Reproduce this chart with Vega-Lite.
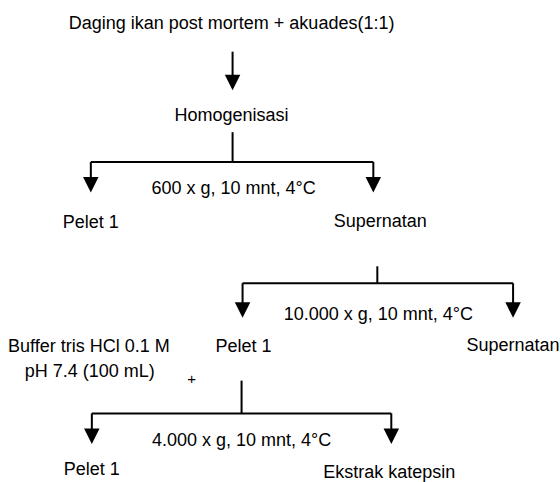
{
  "$schema": "https://vega.github.io/schema/vega-lite/v6.json",
  "width": 560,
  "height": 482,
  "padding": 0,
  "autosize": {"type": "fit", "contains": "padding"},
  "background": "white",
  "config": {"view": {"stroke": null}},
  "datasets": {
    "lines": [
      {"x1": 233, "y1": 52, "x2": 233, "y2": 80},
      {"x1": 233, "y1": 133, "x2": 233, "y2": 163},
      {"x1": 91, "y1": 163, "x2": 374, "y2": 163},
      {"x1": 91, "y1": 163, "x2": 91, "y2": 181},
      {"x1": 374, "y1": 163, "x2": 374, "y2": 181},
      {"x1": 378, "y1": 268, "x2": 378, "y2": 285},
      {"x1": 243, "y1": 285, "x2": 514, "y2": 285},
      {"x1": 243, "y1": 285, "x2": 243, "y2": 307},
      {"x1": 514, "y1": 285, "x2": 514, "y2": 307},
      {"x1": 242, "y1": 383, "x2": 242, "y2": 416},
      {"x1": 92, "y1": 416, "x2": 392, "y2": 416},
      {"x1": 92, "y1": 416, "x2": 92, "y2": 434},
      {"x1": 392, "y1": 416, "x2": 392, "y2": 434}
    ],
    "heads": [
      {"x": 233, "y": 83},
      {"x": 91, "y": 186},
      {"x": 374, "y": 186},
      {"x": 243, "y": 312},
      {"x": 514, "y": 312},
      {"x": 92, "y": 439},
      {"x": 392, "y": 439}
    ],
    "labels": [
      {"x": 232, "y": 29, "text": "Daging ikan post mortem + akuades(1:1)", "size": 18},
      {"x": 232, "y": 122, "text": "Homogenisasi", "size": 18},
      {"x": 234, "y": 195, "text": "600 x g, 10 mnt, 4°C", "size": 18},
      {"x": 91, "y": 229, "text": "Pelet 1", "size": 18},
      {"x": 381, "y": 228, "text": "Supernatan", "size": 18},
      {"x": 379, "y": 322, "text": "10.000 x g, 10 mnt, 4°C", "size": 18},
      {"x": 89, "y": 354, "text": "Buffer tris HCl 0.1 M", "size": 18},
      {"x": 90, "y": 379, "text": "pH 7.4 (100 mL)", "size": 18},
      {"x": 192, "y": 386, "text": "+", "size": 15},
      {"x": 244, "y": 354, "text": "Pelet 1", "size": 18},
      {"x": 514, "y": 353, "text": "Supernatan", "size": 18},
      {"x": 242, "y": 449, "text": "4.000 x g, 10 mnt, 4°C", "size": 18},
      {"x": 92, "y": 478, "text": "Pelet 1", "size": 18},
      {"x": 390, "y": 481, "text": "Ekstrak katepsin", "size": 18}
    ]
  },
  "layer": [
    {
      "data": {"name": "lines"},
      "mark": {"type": "rule", "color": "black", "strokeWidth": 2},
      "encoding": {
        "x": {"field": "x1", "type": "quantitative", "scale": {"domain": [0, 560], "nice": false, "zero": false}, "axis": null},
        "y": {"field": "y1", "type": "quantitative", "scale": {"domain": [0, 482], "nice": false, "zero": false, "reverse": true}, "axis": null},
        "x2": {"field": "x2"},
        "y2": {"field": "y2"}
      }
    },
    {
      "data": {"name": "heads"},
      "mark": {"type": "point", "shape": "M-1,-1L1,-1L0,1Z", "filled": true, "color": "black", "opacity": 1, "size": 240, "strokeWidth": 0},
      "encoding": {
        "x": {"field": "x", "type": "quantitative", "axis": null},
        "y": {"field": "y", "type": "quantitative", "axis": null}
      }
    },
    {
      "data": {"name": "labels"},
      "mark": {"type": "text", "align": "center", "baseline": "alphabetic", "font": "Liberation Sans", "color": "black"},
      "encoding": {
        "x": {"field": "x", "type": "quantitative", "axis": null},
        "y": {"field": "y", "type": "quantitative", "axis": null},
        "text": {"field": "text", "type": "nominal"},
        "size": {"field": "size", "type": "quantitative", "scale": null}
      }
    }
  ]
}
